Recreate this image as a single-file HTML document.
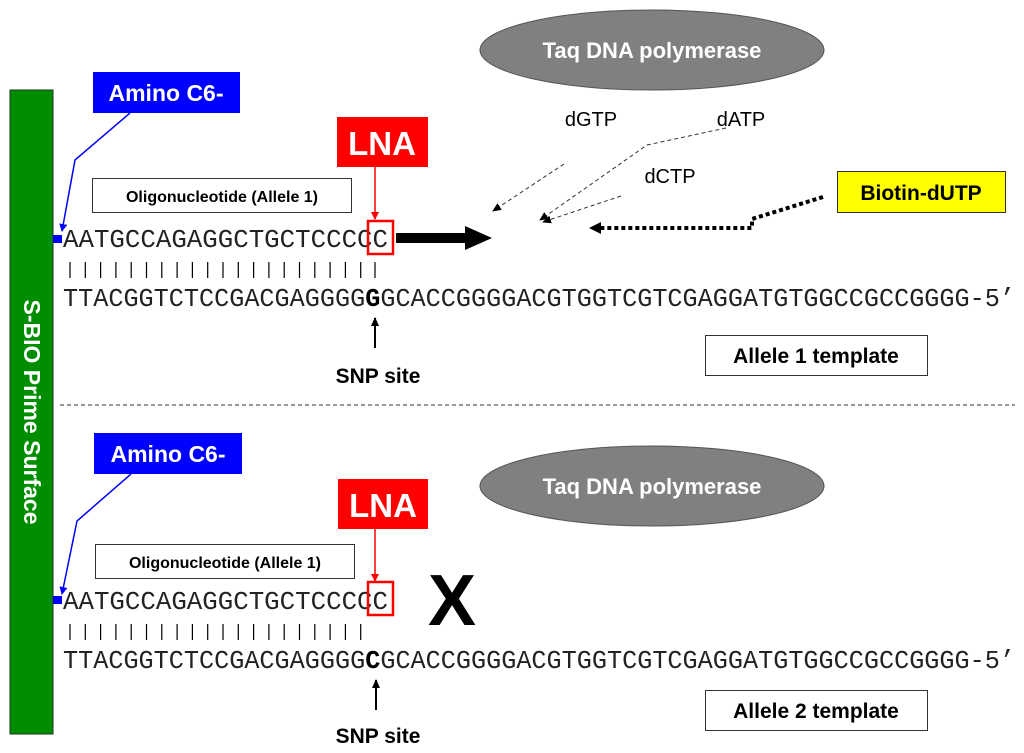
<!DOCTYPE html>
<html><head><meta charset="utf-8"><style>
html,body{margin:0;padding:0;background:#fff;}
svg{display:block;}
.b{font-family:"Liberation Sans",Arial,sans-serif;font-weight:bold;}
.s{font-family:"Liberation Sans",Arial,sans-serif;}
.m{font-family:"Liberation Mono","Courier New",monospace;}
</style></head><body>
<svg width="1024" height="753" viewBox="0 0 1024 753" xmlns="http://www.w3.org/2000/svg">
<defs>
<marker id="ab" markerWidth="8" markerHeight="8" refX="7" refY="4" orient="auto" markerUnits="userSpaceOnUse"><path d="M0,0L8,4L0,8z" fill="#0000ff"/></marker>
<marker id="ar" markerWidth="8" markerHeight="8" refX="7" refY="4" orient="auto" markerUnits="userSpaceOnUse"><path d="M0,0L8,4L0,8z" fill="#ff0000"/></marker>
<marker id="ak" markerWidth="9" markerHeight="8" refX="8" refY="4" orient="auto" markerUnits="userSpaceOnUse"><path d="M0,0L9,4L0,8z" fill="#000"/></marker>
</defs>
<rect x="10" y="90" width="43" height="644" fill="#008e00" stroke="#1a3a1a" stroke-width="1"/>
<text class="b" x="0" y="0" font-size="23" fill="#fff" text-anchor="middle" transform="translate(24,412) rotate(90)">S-BIO Prime Surface</text>

<ellipse cx="652" cy="50" rx="172" ry="40" fill="#808080" stroke="#555" stroke-width="1"/>
<text class="b" x="652" y="58" font-size="22" fill="#fff" text-anchor="middle">Taq DNA polymerase</text>

<rect x="93" y="72" width="147" height="41" fill="#0000ff"/>
<text class="b" x="166" y="101" font-size="23" fill="#fff" text-anchor="middle">Amino C6-</text>
<polyline points="130,113 75,160 62,231" fill="none" stroke="#0000ff" stroke-width="1.5" marker-end="url(#ab)"/>
<rect x="53" y="235" width="9" height="8" fill="#0000ff"/>

<rect x="337" y="117" width="91" height="50" fill="#ff0000"/>
<text class="b" x="382" y="155" font-size="33" fill="#fff" text-anchor="middle">LNA</text>
<line x1="375" y1="167" x2="375" y2="219" stroke="#ff0000" stroke-width="1.5" marker-end="url(#ar)"/>

<rect x="92.5" y="178.5" width="259" height="34" fill="#fff" stroke="#333" stroke-width="1"/>
<text class="b" x="222" y="202" font-size="16" text-anchor="middle">Oligonucleotide (Allele 1)</text>

<text class="m" x="63" y="247" font-size="25.5" fill="#222" textLength="325" lengthAdjust="spacingAndGlyphs">AATGCCAGAGGCTGCTCCCCC</text>
<rect x="368" y="221" width="25" height="33" fill="none" stroke="#ff0000" stroke-width="2.5"/>
<g stroke="#000" stroke-width="1.2">
<path d="M70,262v16M85.3,262v16M100.6,262v16M115.9,262v16M131.2,262v16M146.5,262v16M161.8,262v16M177.1,262v16M192.4,262v16M207.7,262v16M223,262v16M238.3,262v16M253.6,262v16M268.9,262v16M284.2,262v16M299.5,262v16M314.8,262v16M330.1,262v16M345.4,262v16M360.7,262v16M375,262v16"/>
</g>
<text class="m" x="63" y="306" font-size="25.5" fill="#222" textLength="952" lengthAdjust="spacingAndGlyphs">TTACGGTCTCCGACGAGGGG<tspan font-weight="bold" fill="#000">G</tspan>GCACCGGGGACGTGGTCGTCGAGGATGTGGCCGCCGGGG-5’</text>

<polygon points="396,233 465,233 465,226 492,238 465,250 465,243 396,243" fill="#000"/>

<line x1="375" y1="348" x2="375" y2="318" stroke="#000" stroke-width="2" marker-end="url(#ak)"/>
<text class="b" x="378" y="383" font-size="21" text-anchor="middle">SNP site</text>

<text class="s" x="591" y="126" font-size="20" text-anchor="middle">dGTP</text>
<text class="s" x="741" y="126" font-size="20" text-anchor="middle">dATP</text>
<text class="s" x="670" y="183" font-size="20" text-anchor="middle">dCTP</text>
<g fill="none" stroke="#333" stroke-width="1" stroke-dasharray="4,3">
<line x1="564" y1="164" x2="493" y2="211" marker-end="url(#ak)"/>
<polyline points="726,128 647,145 540,220" marker-end="url(#ak)"/>
<line x1="621" y1="196" x2="543" y2="222" marker-end="url(#ak)"/>
</g>
<polyline points="823,197 752,219 752,228 598,228" fill="none" stroke="#000" stroke-width="4" stroke-dasharray="4,3"/>
<polygon points="589,228 601,222 601,234" fill="#000"/>
<rect x="837.5" y="171.5" width="168" height="41" fill="#ffff00" stroke="#333" stroke-width="1"/>
<text class="b" x="921" y="200" font-size="21" text-anchor="middle">Biotin-dUTP</text>

<rect x="705.5" y="335.5" width="222" height="40" fill="#fff" stroke="#333" stroke-width="1"/>
<text class="b" x="816" y="363" font-size="21" text-anchor="middle">Allele 1 template</text>

<line x1="60" y1="405" x2="1015" y2="405" stroke="#333" stroke-width="1" stroke-dasharray="4,3"/>

<ellipse cx="652" cy="486" rx="172" ry="40" fill="#808080" stroke="#555" stroke-width="1"/>
<text class="b" x="652" y="494" font-size="22" fill="#fff" text-anchor="middle">Taq DNA polymerase</text>

<rect x="94" y="433" width="148" height="41" fill="#0000ff"/>
<text class="b" x="168" y="462" font-size="23" fill="#fff" text-anchor="middle">Amino C6-</text>
<polyline points="131,474 77,521 62,594" fill="none" stroke="#0000ff" stroke-width="1.5" marker-end="url(#ab)"/>
<rect x="53" y="596" width="9" height="8" fill="#0000ff"/>

<rect x="338" y="479" width="90" height="50" fill="#ff0000"/>
<text class="b" x="383" y="517" font-size="33" fill="#fff" text-anchor="middle">LNA</text>
<line x1="375" y1="529" x2="375" y2="581" stroke="#ff0000" stroke-width="1.5" marker-end="url(#ar)"/>

<rect x="95.5" y="544.5" width="259" height="34" fill="#fff" stroke="#333" stroke-width="1"/>
<text class="b" x="225" y="568" font-size="16" text-anchor="middle">Oligonucleotide (Allele 1)</text>

<text class="m" x="63" y="609" font-size="25.5" fill="#222" textLength="325" lengthAdjust="spacingAndGlyphs">AATGCCAGAGGCTGCTCCCCC</text>
<rect x="368" y="582" width="25" height="33" fill="none" stroke="#ff0000" stroke-width="2.5"/>
<g stroke="#000" stroke-width="1.2">
<path d="M70,624v16M85.3,624v16M100.6,624v16M115.9,624v16M131.2,624v16M146.5,624v16M161.8,624v16M177.1,624v16M192.4,624v16M207.7,624v16M223,624v16M238.3,624v16M253.6,624v16M268.9,624v16M284.2,624v16M299.5,624v16M314.8,624v16M330.1,624v16M345.4,624v16M360.7,624v16"/>
</g>
<text class="m" x="63" y="668" font-size="25.5" fill="#222" textLength="952" lengthAdjust="spacingAndGlyphs">TTACGGTCTCCGACGAGGGG<tspan font-weight="bold" fill="#000">C</tspan>GCACCGGGGACGTGGTCGTCGAGGATGTGGCCGCCGGGG-5’</text>

<text class="b" x="452" y="625" font-size="72" text-anchor="middle">X</text>

<line x1="376" y1="710" x2="376" y2="680" stroke="#000" stroke-width="2" marker-end="url(#ak)"/>
<text class="b" x="378" y="743" font-size="21" text-anchor="middle">SNP site</text>

<rect x="705.5" y="690.5" width="222" height="40" fill="#fff" stroke="#333" stroke-width="1"/>
<text class="b" x="816" y="718" font-size="21" text-anchor="middle">Allele 2 template</text>
</svg>
</body></html>
